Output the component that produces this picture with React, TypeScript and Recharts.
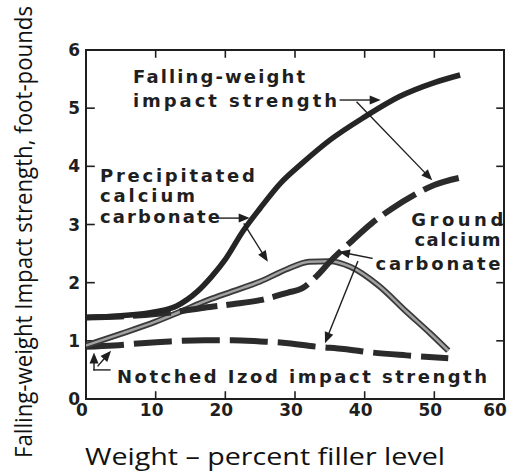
import React from 'react';
import { LineChart, Line, XAxis, YAxis, ReferenceLine, ReferenceDot, Label } from 'recharts';

const xTicks = [0, 10, 20, 30, 40, 50, 60];
const xInnerTicks = [10, 20, 30, 40, 50];
const yTicks = [0, 1, 2, 3, 4, 5, 6];
const yInnerTicks = [1, 2, 3, 4, 5];

// [filler %, foot-pounds]
const precipFalling = [
  [0, 1.4], [5, 1.43], [10, 1.5], [13, 1.6], [16, 1.85], [18, 2.1], [20, 2.4],
  [22.5, 2.88], [25, 3.28], [28, 3.72], [31, 4.05], [35, 4.45], [40, 4.85],
  [45, 5.2], [50, 5.44], [53.7, 5.57],
];
const groundFalling = [
  [0, 1.4], [5, 1.42], [10, 1.46], [13, 1.5], [17, 1.57], [21, 1.63], [25, 1.7],
  [29, 1.83], [31, 1.9], [33, 2.1], [35, 2.36], [38, 2.7], [41, 3.02],
  [44, 3.28], [47, 3.5], [50, 3.68], [53.5, 3.8],
];
const precipIzod = [
  [0, 0.92], [5, 1.12], [10, 1.33], [13.5, 1.5], [17.5, 1.7], [21, 1.85],
  [25, 2.02], [29, 2.24], [32, 2.36], [35, 2.37], [38, 2.27], [42, 1.95],
  [46, 1.5], [49.4, 1.13], [52, 0.83],
];
const groundIzod = [
  [0, 0.9], [4, 0.92], [8, 0.96], [12, 0.99], [17, 1.01], [21, 1.01], [25, 0.99],
  [29, 0.96], [33, 0.9], [37, 0.86], [41, 0.8], [46, 0.75], [52, 0.7],
];

// callout text, placed in data units
const notes = [
  { x: 6.75, y: 5.43, text: 'Falling-weight', len: 172, anchor: 'start' },
  { x: 6.75, y: 5.02, text: 'impact strength', len: 204, anchor: 'start' },
  { x: 2.0, y: 3.73, text: 'Precipitated', len: 155, anchor: 'start' },
  { x: 2.0, y: 3.39, text: 'calcium', len: 95, anchor: 'start' },
  { x: 2.0, y: 3.02, text: 'carbonate', len: 120, anchor: 'start' },
  { x: 59.9, y: 2.97, text: 'Ground', len: 92, anchor: 'end' },
  { x: 59.5, y: 2.63, text: 'calcium', len: 86, anchor: 'end' },
  { x: 59.5, y: 2.22, text: 'carbonate', len: 125, anchor: 'end' },
  { x: 4.45, y: 0.27, text: 'Notched Izod impact strength', len: 370, anchor: 'start' },
];

// leader lines from the callouts
const arrows = [
  { from: [36.5, 5.14], to: [42.3, 5.14], head: true },
  { from: [38.9, 5.1], to: [49.7, 3.76], head: true },
  { from: [19.2, 3.11], to: [23.5, 3.11], head: true },
  { from: [22.7, 3.01], to: [26.1, 2.36], head: true },
  { from: [41.05, 2.42], to: [36.3, 2.53], head: true },
  { from: [39.0, 2.36], to: [34.3, 0.96], head: true },
  { from: [3.44, 0.5], to: [1.15, 0.5], head: false },
  { from: [1.15, 0.5], to: [1.15, 0.8], head: true },
  { from: [1.72, 0.57], to: [3.6, 0.83], head: true },
];

const rows = (pts: number[][]) => pts.map(([x, y]) => ({ x, y }));

// plot frame and inward tick marks, as data-space segments
const frame = [
  [[0, 0], [60, 0]],
  [[60, 0], [60, 6]],
  [[60, 6], [0, 6]],
  [[0, 6], [0, 0]],
];
const innerTicks = [
  ...xInnerTicks.map((t) => [[t, 0], [t, 0.12]]),
  ...xInnerTicks.map((t) => [[t, 6], [t, 5.88]]),
  ...yInnerTicks.map((v) => [[0, v], [1.15, v]]),
  ...yInnerTicks.map((v) => [[60, v], [59, v]]),
];

const INK = '#1f1f1f';
const tickFont = { fontFamily: 'DejaVu Sans', fontWeight: 700, fontSize: 17, fill: INK };
const noteFont = { fontFamily: 'DejaVu Sans', fontWeight: 700, fontSize: 18, fill: INK };
const titleFont = { fontFamily: 'Open Sans', fontSize: 24, fill: '#111' };

function BottomTick({ x, y, payload }: any) {
  const v = payload.value;
  const shift = v === 60 ? -9 : -4;
  return (
    <text x={x + shift} y={y + 17} textAnchor="middle" {...tickFont}>{v}</text>
  );
}

function LeftTick({ x, y, payload }: any) {
  return (
    <text x={x - 6} y={y + 6} textAnchor="end" {...tickFont}>{payload.value}</text>
  );
}

function Arrow({ x1, y1, x2, y2, head, width = 1.4 }: any) {
  const dx = x2 - x1;
  const dy = y2 - y1;
  const d = Math.hypot(dx, dy) || 1;
  const ux = dx / d;
  const uy = dy / d;
  const L = 11;
  const W = 4.5;
  const bx = x2 - ux * L;
  const by = y2 - uy * L;
  return (
    <g>
      <line
        x1={x1}
        y1={y1}
        x2={head ? bx : x2}
        y2={head ? by : y2}
        stroke={INK}
        strokeWidth={width}
        strokeLinecap="square"
      />
      {head && (
        <polygon
          points={`${x2},${y2} ${bx - uy * W},${by + ux * W} ${bx + uy * W},${by - ux * W}`}
          fill={INK}
        />
      )}
    </g>
  );
}

function XTitle({ viewBox }: any) {
  return (
    <text x={viewBox.x - 1} y={viewBox.y + 66} textLength={360} lengthAdjust="spacingAndGlyphs" {...titleFont}>
      Weight – percent filler level
    </text>
  );
}

function YTitle({ viewBox }: any) {
  const x = viewBox.x + 32;
  const y = viewBox.y + viewBox.height + 59;
  return (
    <text
      x={x}
      y={y}
      transform={`rotate(-90, ${x}, ${y})`}
      textLength={452}
      lengthAdjust="spacingAndGlyphs"
      {...titleFont}
    >
      Falling-weight Impact strength, foot-pounds
    </text>
  );
}

export default function App() {
  return (
    <div style={{ position: 'absolute', left: 0, top: 0, width: 509, height: 472, background: '#fff' }}>
      <LineChart width={509} height={472} margin={{ top: 50, right: 5, bottom: 0, left: 0 }}>
        <XAxis
          dataKey="x"
          type="number"
          domain={[0, 60]}
          allowDataOverflow
          ticks={xTicks}
          interval={0}
          height={73}
          tickSize={0}
          tickMargin={0}
          tickLine={false}
          axisLine={false}
          tick={<BottomTick />}
        >
          <Label content={<XTitle />} />
        </XAxis>
        <YAxis
          type="number"
          domain={[0, 6]}
          allowDataOverflow
          ticks={yTicks}
          interval={0}
          width={86}
          tickSize={0}
          tickMargin={0}
          tickLine={false}
          axisLine={false}
          tick={<LeftTick />}
        >
          <Label content={<YTitle />} />
        </YAxis>

        {frame.map((s, i) => (
          <ReferenceLine
            key={`f${i}`}
            segment={[{ x: s[0][0], y: s[0][1] }, { x: s[1][0], y: s[1][1] }]}
            shape={(p: any) => <Arrow {...p} head={false} width={2} />}
          />
        ))}
        {innerTicks.map((s, i) => (
          <ReferenceLine
            key={`k${i}`}
            segment={[{ x: s[0][0], y: s[0][1] }, { x: s[1][0], y: s[1][1] }]}
            shape={(p: any) => <Arrow {...p} head={false} width={1.6} />}
          />
        ))}

        <Line
          data={rows(groundIzod)}
          dataKey="y"
          type="monotone"
          stroke="#2b2b2b"
          strokeWidth={6}
          strokeDasharray="38 10"
          dot={false}
          isAnimationActive={false}
        />
        <Line
          data={rows(precipIzod)}
          dataKey="y"
          type="monotone"
          stroke="#3a3a3a"
          strokeWidth={6}
          dot={false}
          isAnimationActive={false}
        />
        <Line
          data={rows(precipIzod)}
          dataKey="y"
          type="monotone"
          stroke="#a2a2a2"
          strokeWidth={2.5}
          dot={false}
          isAnimationActive={false}
        />
        <Line
          data={rows(groundFalling)}
          dataKey="y"
          type="monotone"
          stroke="#2b2b2b"
          strokeWidth={6}
          strokeDasharray="38 9"
          dot={false}
          isAnimationActive={false}
        />
        <Line
          data={rows(precipFalling)}
          dataKey="y"
          type="monotone"
          stroke="#252525"
          strokeWidth={5.5}
          dot={false}
          isAnimationActive={false}
        />

        {arrows.map((a, i) => (
          <ReferenceLine
            key={`a${i}`}
            segment={[{ x: a.from[0], y: a.from[1] }, { x: a.to[0], y: a.to[1] }]}
            shape={(p: any) => <Arrow {...p} head={a.head} />}
          />
        ))}
        {notes.map((n, i) => (
          <ReferenceDot
            key={`n${i}`}
            x={n.x}
            y={n.y}
            r={0}
            shape={(p: any) => (
              <text
                x={p.cx}
                y={p.cy}
                textAnchor={n.anchor}
                textLength={n.len}
                lengthAdjust="spacing"
                {...noteFont}
              >
                {n.text}
              </text>
            )}
          />
        ))}
      </LineChart>
    </div>
  );
}
